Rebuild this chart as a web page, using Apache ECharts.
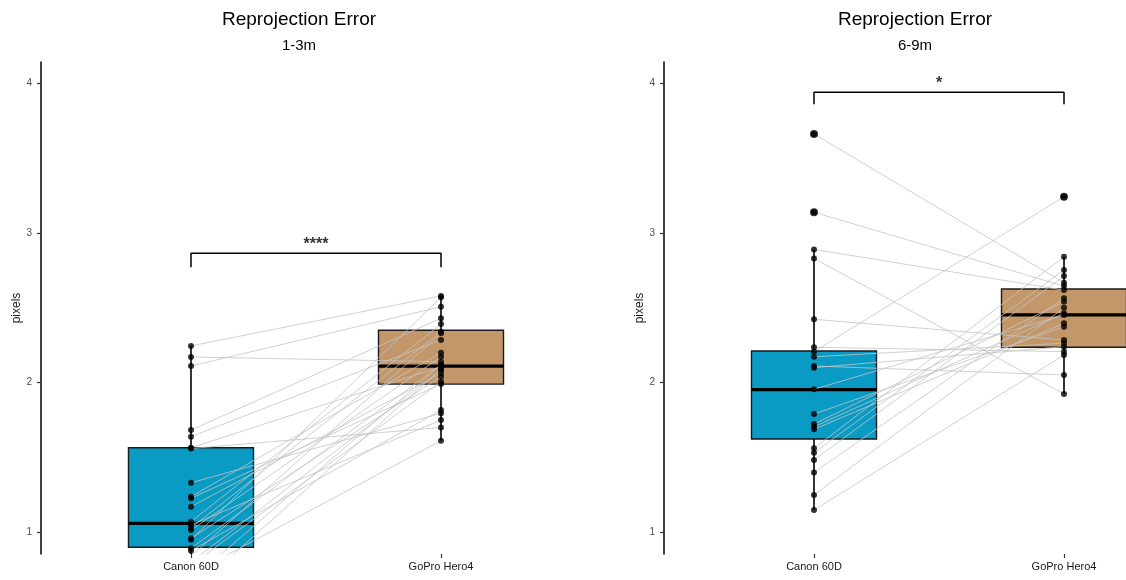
<!DOCTYPE html>
<html>
<head>
<meta charset="utf-8">
<script src="https://cdn.jsdelivr.net/npm/echarts@6/dist/echarts.min.js"></script>
<style>
html,body{margin:0;padding:0;background:#fff;}
#main{width:1126px;height:580px;}
</style>
</head>
<body>
<div id="main"></div>
<script>
// ---- data ----
var categories = ['Canon 60D', 'GoPro Hero4'];
var yTicks = [1, 2, 3, 4];
var panelTitles = ['Reprojection Error', 'Reprojection Error'];
var panelSubtitles = ['1-3m', '6-9m'];
var sigLabels = ['****', '*'];

// 1-3m paired values (index i = same subject)
var canon13 = [2.245, 2.171, 2.111, 1.683, 1.639, 1.565, 1.56, 1.331, 1.238, 1.227, 1.171, 1.071, 1.049, 1.03, 1.015, 0.96, 0.95, 0.893, 0.877, 0.84, 0.80, 0.78, 0.72, 0.68, 0.60];
var gopro13 = [2.579, 2.14, 2.507, 2.43, 2.285, 2.106, 1.70, 1.795, 2.20, 1.99, 2.062, 2.391, 1.75, 2.34, 2.173, 2.04, 2.57, 2.118, 1.817, 2.329, 2.084, 2.006, 1.612, 2.12, 2.09];
// box stats [low whisker, Q1, median, Q3, high whisker]
var canon13Box = [0.60, 0.90, 1.06, 1.565, 2.245];
var gopro13Box = [1.612, 1.99, 2.11, 2.35, 2.579];
var canon13Out = [];
var gopro13Out = [];
var bracket13 = [2.77, 2.865];

// 6-9m paired values
var canon69 = [3.661, 3.138, 2.89, 2.83, 2.423, 2.236, 2.207, 2.173, 2.111, 2.10, 1.955, 1.79, 1.723, 1.705, 1.688, 1.561, 1.532, 1.483, 1.40, 1.249, 1.149];
var gopro69 = [2.667, 2.645, 2.618, 1.924, 2.285, 2.207, 3.242, 2.263, 2.051, 2.24, 2.452, 2.373, 2.541, 2.463, 2.396, 2.841, 2.752, 2.712, 2.563, 2.50, 2.184];
var canon69Box = [1.149, 1.623, 1.953, 2.211, 2.89];
var gopro69Box = [1.924, 2.236, 2.452, 2.625, 2.841];
var canon69Out = [3.661, 3.138];
var gopro69Out = [3.242];
var bracket69 = [3.86, 3.94];

var colors = ['#0A9BC5', '#C3976A'];

// ---- helpers ----
function renderBox(params, api) {
  var x = api.value(0);
  var hw = 0.25;
  var low = api.coord([x, api.value(1)]);
  var q1 = api.coord([x, api.value(2)]);
  var med = api.coord([x, api.value(3)]);
  var q3 = api.coord([x, api.value(4)]);
  var high = api.coord([x, api.value(5)]);
  var l = api.coord([x - hw, api.value(3)])[0];
  var r = api.coord([x + hw, api.value(3)])[0];
  var cx = low[0];
  var col = api.visual('color');
  return {
    type: 'group',
    children: [
      {type: 'line', shape: {x1: cx, y1: high[1], x2: cx, y2: q3[1]}, style: {stroke: '#000', lineWidth: 1.6}},
      {type: 'line', shape: {x1: cx, y1: q1[1], x2: cx, y2: low[1]}, style: {stroke: '#000', lineWidth: 1.6}},
      {type: 'rect', shape: {x: l, y: q3[1], width: r - l, height: q1[1] - q3[1]}, style: {fill: col, stroke: '#1a1a1a', lineWidth: 1.4}},
      {type: 'line', shape: {x1: l, y1: med[1], x2: r, y2: med[1]}, style: {stroke: '#000', lineWidth: 3.2}}
    ]
  };
}

function panelSeries(idx, canon, gopro, canonBox, goproBox, canonOut, goproOut, bracket, sig) {
  var s = [];
  s.push({
    type: 'custom', xAxisIndex: idx, yAxisIndex: idx, clip: true, z: 1,
    renderItem: renderBox,
    data: [
      {value: [1].concat(canonBox), itemStyle: {color: colors[0]}},
      {value: [2].concat(goproBox), itemStyle: {color: colors[1]}}
    ]
  });
  var segs = canon.map(function (c, i) { return {coords: [[1, c], [2, gopro[i]]]}; });
  s.push({
    type: 'lines', coordinateSystem: 'cartesian2d', xAxisIndex: idx, yAxisIndex: idx, clip: true, z: 2,
    lineStyle: {color: '#c4c4c4', width: 0.8, opacity: 1},
    silent: true,
    data: segs
  });
  var pts = canon.map(function (v) { return [1, v]; }).concat(gopro.map(function (v) { return [2, v]; }));
  s.push({
    type: 'scatter', xAxisIndex: idx, yAxisIndex: idx, clip: true, z: 3,
    symbolSize: 6, itemStyle: {color: '#000'}, data: pts
  });
  var outs = canonOut.map(function (v) { return [1, v]; }).concat(goproOut.map(function (v) { return [2, v]; }));
  s.push({
    type: 'scatter', xAxisIndex: idx, yAxisIndex: idx, clip: true, z: 4,
    symbolSize: 8, itemStyle: {color: '#000'}, data: outs
  });
  s.push({
    type: 'line', xAxisIndex: idx, yAxisIndex: idx, z: 5, symbol: 'none',
    lineStyle: {color: '#000', width: 1.5},
    data: [[1, bracket[0]], [1, bracket[1]], [2, bracket[1]], [2, bracket[0]]]
  });
  s.push({
    type: 'scatter', xAxisIndex: idx, yAxisIndex: idx, z: 5, symbolSize: 0,
    label: {show: true, position: 'top', distance: 1, formatter: sig, color: '#000', fontSize: 16, fontWeight: 'bold', fontFamily: 'Liberation Sans, Arial, sans-serif'},
    data: [[1.5, bracket[1]]]
  });
  return s;
}

function xAxisCfg(idx) {
  return {
    type: 'value', gridIndex: idx, min: 0.4, max: 2.6,
    axisLine: {show: false},
    splitLine: {show: false},
    axisTick: {show: true, customValues: [1, 2], length: 4, lineStyle: {color: '#333', width: 1.2}},
    axisLabel: {
      show: true, customValues: [1, 2], margin: 7,
      fontSize: 11, color: '#1a1a1a', fontFamily: 'Liberation Sans, Arial, sans-serif',
      formatter: function (v) { return categories[Math.round(v) - 1]; }
    }
  };
}
function yAxisCfg(idx) {
  return {
    type: 'value', gridIndex: idx, min: 0.855, max: 4.142,
    name: 'pixels', nameLocation: 'middle', nameGap: 14, nameRotate: 90,
    nameTextStyle: {fontSize: 12, color: '#1a1a1a', fontFamily: 'Liberation Sans, Arial, sans-serif'},
    axisLine: {show: true, lineStyle: {color: '#000', width: 1.5}},
    splitLine: {show: false},
    axisTick: {show: true, customValues: yTicks, length: 4, lineStyle: {color: '#333', width: 1.2}},
    axisLabel: {show: true, customValues: yTicks, margin: 9, fontSize: 10, color: '#4d4d4d', fontFamily: 'Liberation Sans, Arial, sans-serif'}
  };
}

var chart = echarts.init(document.getElementById('main'), null, {renderer: 'canvas'});
var series = []
  .concat(panelSeries(0, canon13, gopro13, canon13Box, gopro13Box, canon13Out, gopro13Out, bracket13, sigLabels[0]))
  .concat(panelSeries(1, canon69, gopro69, canon69Box, gopro69Box, canon69Out, gopro69Out, bracket69, sigLabels[1]));

chart.setOption({
  animation: false,
  backgroundColor: '#fff',
  title: [
    {text: panelTitles[0], left: 294, top: 5, textAlign: 'center', textStyle: {fontSize: 19, fontWeight: 'normal', color: '#000', fontFamily: 'Liberation Sans, Arial, sans-serif'}},
    {text: panelSubtitles[0], left: 294, top: 33, textAlign: 'center', textStyle: {fontSize: 15, fontWeight: 'normal', color: '#000', fontFamily: 'Liberation Sans, Arial, sans-serif'}},
    {text: panelTitles[1], left: 910, top: 5, textAlign: 'center', textStyle: {fontSize: 19, fontWeight: 'normal', color: '#000', fontFamily: 'Liberation Sans, Arial, sans-serif'}},
    {text: panelSubtitles[1], left: 910, top: 33, textAlign: 'center', textStyle: {fontSize: 15, fontWeight: 'normal', color: '#000', fontFamily: 'Liberation Sans, Arial, sans-serif'}}
  ],
  grid: [
    {left: 41, top: 62, width: 550, height: 492, outerBoundsMode: 'none', containLabel: false},
    {left: 664, top: 62, width: 550, height: 492, outerBoundsMode: 'none', containLabel: false}
  ],
  xAxis: [xAxisCfg(0), xAxisCfg(1)],
  yAxis: [yAxisCfg(0), yAxisCfg(1)],
  series: series
});
</script>
</body>
</html>
